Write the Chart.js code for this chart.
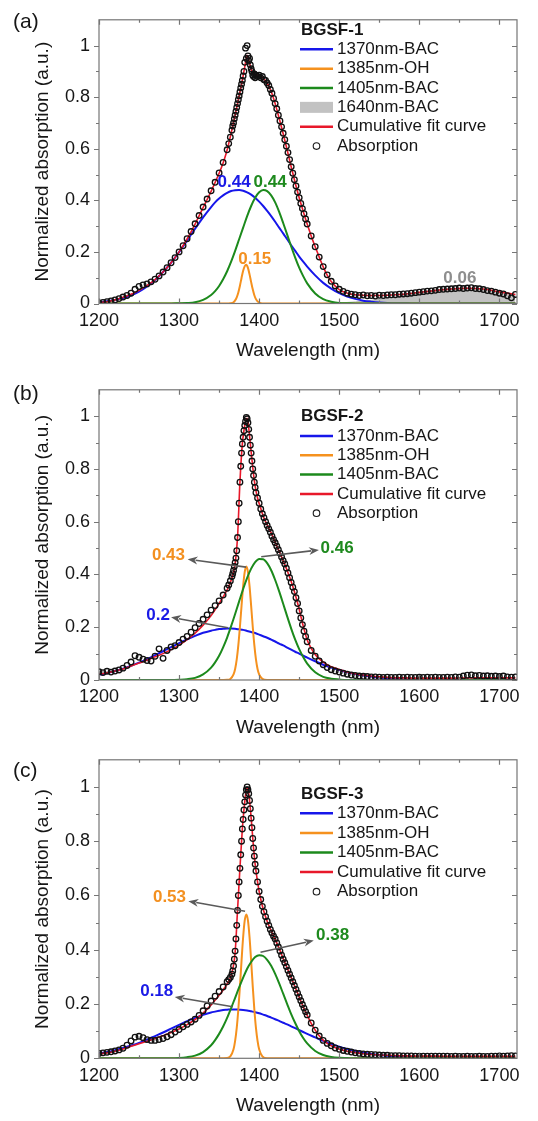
<!DOCTYPE html>
<html>
<head>
<meta charset="utf-8">
<title>BGSF absorption fits</title>
<script src="https://cdn.jsdelivr.net/npm/chart.js@4.4.1/dist/chart.umd.min.js"></script>
<style>
  html, body { margin: 0; padding: 0; background: #fff; }
  canvas { display: block; }
</style>
</head>
<body>
<canvas id="panelA" width="538" height="370"></canvas>
<canvas id="panelB" width="538" height="370"></canvas>
<canvas id="panelC" width="538" height="381"></canvas>
<script>
/* =========================
   DATA
========================= */
const xTickLabels = ['1200', '1300', '1400', '1500', '1600', '1700'];
const yTickLabels = ['0', '0.2', '0.4', '0.6', '0.8', '1'];
const seriesNames = ['1370nm-BAC', '1385nm-OH', '1405nm-BAC', '1640nm-BAC', 'Cumulative fit curve', 'Absorption'];
const sampleNames = ['BGSF-1', 'BGSF-2', 'BGSF-3'];
const panelTags = ['(a)', '(b)', '(c)'];

// peak heights written next to the fitted bands: [1370, 1385, 1405, 1640]
const peaksA = [0.44, 0.15, 0.44, 0.06];
const peaksB = [0.2, 0.43, 0.46];
const peaksC = [0.18, 0.53, 0.38];

// measured absorption (open circles)
const absX = [1200,1205,1210,1215,1220,1225,1230,1235,1240,1245,1250,1255,1260,1265,1270,1275,1280,1285,1290,1295,1300,1305,1310,1315,1320,1325,1330,1335,1340,1345,1350,1355,1360,
  1362,1364,
  1366,1367,1368,1369,1370,1371,1372,1373,1374,1375,1376,1377,1378,1379,1380,1381,1382,1383,1384,1385,1386,1387,1388,1389,1390,1391,1392,1393,1394,1395,1396,
  1398,1400,1402,1404,1406,1408,1410,1412,1414,1416,1418,1420,1422,1424,1426,1428,1430,1432,1434,1436,1438,1440,1442,1444,1446,1448,1450,1452,1454,1456,1458,1460,
  1465,1470,1475,1480,1485,1490,1495,1500,1505,1510,1515,1520,1525,1530,1535,1540,1545,1550,1555,1560,1565,1570,1575,1580,1585,1590,1595,1600,1605,1610,1615,1620,1625,1630,1635,1640,1645,1650,1655,1660,1665,1670,1675,1680,1685,1690,1695,1700,1705,1710,1715,1720];

const absA = [0.002,0.004,0.007,0.010,0.014,0.019,0.025,0.031,0.040,0.055,0.066,0.072,0.076,0.084,0.094,0.107,0.122,0.139,0.158,0.178,0.200,0.224,0.251,0.279,0.309,0.341,0.374,0.405,0.437,0.470,0.506,0.547,0.596,
  0.620,0.645,
  0.672,0.688,0.700,0.716,0.730,0.745,0.760,0.775,0.790,0.805,0.820,0.836,0.850,0.865,0.882,0.900,0.935,0.990,0.950,1.000,0.960,0.940,0.950,0.925,0.910,0.900,0.885,0.880,0.890,0.875,0.885,
  0.880,0.885,0.875,0.880,0.868,0.865,0.855,0.845,0.830,0.815,0.795,0.775,0.755,0.730,0.708,0.685,0.660,0.635,0.610,0.585,0.558,0.530,0.505,0.480,0.456,0.432,0.410,0.388,0.368,0.348,0.328,0.308,
  0.262,0.220,0.180,0.143,0.111,0.086,0.068,0.055,0.047,0.040,0.036,0.034,0.031,0.033,0.030,0.031,0.029,0.032,0.031,0.033,0.034,0.034,0.036,0.037,0.038,0.040,0.042,0.044,0.046,0.048,0.049,0.051,0.054,0.055,0.056,0.057,0.058,0.060,0.058,0.060,0.061,0.058,0.057,0.054,0.050,0.048,0.044,0.040,0.037,0.030,0.022,0.035];

const absB = [0.031,0.028,0.033,0.030,0.034,0.038,0.045,0.055,0.068,0.092,0.086,0.079,0.074,0.072,0.090,0.118,0.082,0.112,0.125,0.130,0.142,0.155,0.165,0.181,0.198,0.214,0.230,0.247,0.265,0.282,0.300,0.322,0.348,
  0.360,0.375,
  0.392,0.403,0.415,0.430,0.445,0.462,0.490,0.540,0.600,0.670,0.750,0.810,0.860,0.895,0.920,0.945,0.965,0.980,0.995,0.990,0.975,0.950,0.920,0.890,0.860,0.830,0.800,0.775,0.750,0.730,0.710,
  0.690,0.670,0.648,0.630,0.615,0.600,0.586,0.573,0.560,0.545,0.532,0.520,0.507,0.494,0.480,0.466,0.452,0.440,0.424,0.406,0.388,0.370,0.352,0.335,0.312,0.290,0.262,0.235,0.210,0.185,0.165,0.145,
  0.112,0.090,0.072,0.058,0.047,0.039,0.034,0.030,0.026,0.022,0.019,0.017,0.015,0.014,0.013,0.012,0.012,0.011,0.010,0.011,0.010,0.010,0.011,0.010,0.011,0.010,0.010,0.011,0.010,0.011,0.010,0.011,0.010,0.010,0.011,0.010,0.012,0.011,0.015,0.018,0.019,0.016,0.017,0.015,0.016,0.014,0.015,0.013,0.015,0.012,0.011,0.012];

const absC = [0.018,0.020,0.022,0.024,0.027,0.031,0.037,0.048,0.064,0.078,0.081,0.076,0.069,0.066,0.066,0.069,0.073,0.079,0.087,0.097,0.106,0.116,0.125,0.134,0.144,0.158,0.175,0.193,0.211,0.229,0.246,0.263,0.282,
  0.290,0.298,
  0.310,0.322,0.340,0.365,0.395,0.440,0.490,0.545,0.600,0.650,0.700,0.750,0.800,0.845,0.880,0.915,0.945,0.970,0.990,1.000,0.990,0.975,0.950,0.920,0.885,0.850,0.810,0.775,0.745,0.715,0.690,
  0.650,0.615,0.585,0.560,0.540,0.522,0.505,0.490,0.475,0.462,0.450,0.440,0.425,0.410,0.395,0.380,0.365,0.352,0.338,0.324,0.310,0.296,0.282,0.268,0.254,0.240,0.226,0.212,0.198,0.185,0.172,0.160,
  0.130,0.104,0.082,0.066,0.055,0.046,0.038,0.033,0.029,0.026,0.023,0.020,0.018,0.016,0.015,0.014,0.013,0.012,0.011,0.011,0.010,0.010,0.010,0.009,0.009,0.009,0.008,0.008,0.008,0.008,0.008,0.008,0.008,0.008,0.008,0.007,0.008,0.007,0.007,0.008,0.007,0.007,0.008,0.007,0.007,0.008,0.008,0.009,0.008,0.009,0.010,0.009];

// cumulative fit curve
const fitX = [1200,1210,1220,1230,1240,1250,1260,1270,1280,1290,1300,1310,1320,1330,1340,
  1350,1355,1360,1365,1370,1373,1376,1379,1381,1383,1385,1387,1389,1391,1393,1395,1398,1401,
  1405,1410,1415,1420,1425,1430,1435,1440,1445,1450,1455,1460,1465,1470,1475,1480,1485,1490,
  1500,1510,1520,1530,1540,1550,1560,1580,1600,1620,1640,1660,1680,1700,1720];

const fitA = [0.003,0.007,0.014,0.024,0.036,0.051,0.070,0.093,0.122,0.158,0.200,0.250,0.308,0.372,0.435,
  0.505,0.545,0.595,0.660,0.730,0.775,0.820,0.865,0.900,0.935,0.962,0.945,0.920,0.900,0.890,0.888,0.886,0.883,
  0.873,0.855,0.822,0.775,0.718,0.658,0.595,0.530,0.468,0.410,0.358,0.308,0.262,0.220,0.180,0.142,0.110,0.085,
  0.054,0.040,0.034,0.032,0.031,0.031,0.032,0.036,0.043,0.050,0.056,0.059,0.056,0.045,0.035];

const fitB = [0.022,0.027,0.034,0.042,0.053,0.064,0.075,0.088,0.100,0.115,0.132,0.153,0.178,0.208,0.244,
  0.290,0.315,0.342,0.378,0.440,0.540,0.750,0.895,0.945,0.980,0.992,0.955,0.895,0.835,0.780,0.735,0.690,0.660,
  0.622,0.588,0.558,0.522,0.488,0.452,0.415,0.373,0.325,0.268,0.205,0.152,0.120,0.097,0.080,0.068,0.058,0.050,
  0.040,0.030,0.024,0.019,0.015,0.012,0.010,0.008,0.007,0.007,0.007,0.008,0.008,0.008,0.008];

const fitC = [0.016,0.020,0.026,0.034,0.044,0.054,0.063,0.073,0.083,0.095,0.108,0.124,0.143,0.167,0.197,
  0.232,0.252,0.274,0.305,0.390,0.545,0.700,0.845,0.915,0.970,0.998,0.975,0.920,0.850,0.775,0.715,0.650,0.600,
  0.550,0.505,0.470,0.438,0.405,0.368,0.333,0.298,0.262,0.226,0.190,0.158,0.129,0.104,0.083,0.067,0.055,0.046,
  0.034,0.026,0.021,0.017,0.014,0.012,0.011,0.009,0.008,0.008,0.007,0.007,0.007,0.007,0.007];

// broad fitted bands
const compX = [1200,1210,1220,1230,1240,1250,1260,1270,1280,1290,1300,1310,1320,1330,1340,
  1345,1350,1355,1360,1365,1370,1375,1380,1385,1390,1395,1400,1405,1410,1415,1420,1425,1430,1435,1440,1445,1450,1455,1460,
  1470,1480,1490,1500,1510,1520,1530,1540,1550,1560,1570,1580,1590,1600,1610,1620,1630,1640,1650,1660,1670,1680,1690,1700,1710,1720];

const bac1370A = [0.005,0.009,0.014,0.021,0.032,0.046,0.066,0.091,0.122,0.158,0.199,0.244,0.290,0.334,0.374,
  0.392,0.407,0.419,0.429,0.436,0.439,0.440,0.437,0.431,0.422,0.410,0.395,0.378,0.359,0.339,0.317,0.294,0.272,0.249,0.226,0.204,0.182,0.162,0.143,
  0.109,0.080,0.058,0.040,0.027,0.018,0.011,0.007,0.004,0.002,0.001,0.001,0,0,0,0,0,0,0,0,0,0,0,0,0,0];
const bac1405A = [0,0,0,0,0,0,0,0,0,0,0.001,0.002,0.005,0.014,0.033,
  0.048,0.068,0.094,0.125,0.162,0.204,0.249,0.294,0.339,0.378,0.410,0.431,0.440,0.436,0.419,0.392,0.355,0.312,0.267,0.221,0.178,0.139,0.106,0.078,
  0.039,0.017,0.007,0.002,0.001,0,0,0,0,0,0,0,0,0,0,0,0,0,0,0,0,0,0,0,0,0];
const bac1640A = [0,0,0,0,0,0,0,0,0,0,0,0,0,0,0,
  0,0,0,0,0,0,0,0,0,0,0,0,0,0,0,0,0,0,0,0,0,0,0.001,0.001,
  0.001,0.001,0.002,0.003,0.004,0.006,0.009,0.012,0.016,0.020,0.025,0.031,0.036,0.042,0.048,0.053,0.056,0.059,0.060,0.060,0.058,0.054,0.050,0.045,0.039,0.033];

const bac1370B = [0.020,0.026,0.034,0.043,0.054,0.066,0.079,0.094,0.109,0.125,0.140,0.154,0.167,0.179,0.187,
  0.190,0.193,0.194,0.195,0.195,0.194,0.192,0.190,0.186,0.182,0.178,0.172,0.166,0.160,0.153,0.146,0.138,0.131,0.123,0.115,0.107,0.100,0.092,0.085,
  0.071,0.058,0.047,0.038,0.029,0.023,0.017,0.013,0.009,0.007,0.005,0.003,0.002,0.001,0.001,0.001,0,0,0,0,0,0,0,0,0,0];
const bac1405B = [0,0,0,0,0,0,0,0,0,0,0.001,0.003,0.008,0.021,0.047,
  0.067,0.092,0.124,0.161,0.204,0.250,0.298,0.345,0.387,0.422,0.447,0.459,0.458,0.443,0.416,0.379,0.336,0.289,0.241,0.195,0.153,0.117,0.087,0.062,
  0.029,0.012,0.005,0.002,0,0,0,0,0,0,0,0,0,0,0,0,0,0,0,0,0,0,0,0,0,0];

const bac1370C = [0.018,0.023,0.030,0.038,0.047,0.057,0.069,0.082,0.095,0.109,0.123,0.137,0.149,0.160,0.169,
  0.172,0.175,0.178,0.179,0.180,0.180,0.179,0.178,0.176,0.173,0.170,0.166,0.161,0.156,0.150,0.144,0.138,0.131,0.125,0.118,0.111,0.104,0.097,0.090,
  0.077,0.064,0.053,0.043,0.034,0.027,0.021,0.016,0.012,0.009,0.006,0.005,0.003,0.002,0.002,0.001,0.001,0,0,0,0,0,0,0,0,0];
const bac1405C = [0,0,0,0,0,0,0,0,0,0,0.001,0.004,0.010,0.023,0.048,
  0.067,0.090,0.117,0.149,0.185,0.223,0.261,0.297,0.330,0.355,0.373,0.380,0.377,0.363,0.341,0.311,0.276,0.238,0.200,0.163,0.130,0.100,0.075,0.055,
  0.027,0.012,0.005,0.002,0.001,0,0,0,0,0,0,0,0,0,0,0,0,0,0,0,0,0,0,0,0,0];

// narrow OH band
const ohX = [1200,1350,1360,1364,1368,1370,1372,1374,1376,1378,1380,1382,1384,1386,1388,1390,1392,1394,1396,1398,1400,1404,1410,1420,1720];
const oh1385A = [0,0,0,0.001,0.005,0.012,0.024,0.043,0.069,0.099,0.127,0.145,0.150,0.138,0.113,0.083,0.055,0.032,0.017,0.008,0.003,0,0,0,0];
const oh1385B = [0,0,0.001,0.004,0.021,0.042,0.078,0.132,0.202,0.281,0.356,0.410,0.430,0.410,0.356,0.281,0.202,0.132,0.078,0.042,0.021,0.004,0,0,0];
const oh1385C = [0,0,0.001,0.007,0.033,0.064,0.112,0.180,0.265,0.359,0.446,0.508,0.530,0.508,0.446,0.359,0.265,0.180,0.112,0.064,0.033,0.007,0,0,0];

/* =========================
   STYLE
========================= */
const FONT = '"Liberation Sans", Arial, Helvetica, sans-serif';
const INK = '#161616';
const bandColors = ['#1616ea', '#f5911e', '#1c8a1c', '#c2c2c2'];
const labelColors = ['#1a1ae6', '#f39020', '#1e8a1e', '#8e8e8e'];
const fitColor = '#e8182a';

const panels = [
  {
    id: 'panelA', tag: panelTags[0], sample: sampleNames[0],
    abs: absA, fit: fitA, bands: [bac1370A, oh1385A, bac1405A, bac1640A], peaks: peaksA,
    pad: { top: 3.5, bottom: 7.6 }, tagY: 22.7,
    legend: { titleY: 30, firstY: 49.3, step: 19.35, items: [0, 1, 2, 3, 4, 5] },
    notes: [
      { s: 0, at: [1368.7, 0.468] },
      { s: 1, at: [1394.5, 0.171] },
      { s: 2, at: [1413.7, 0.468] },
      { s: 3, at: [1650.6, 0.098] }
    ]
  },
  {
    id: 'panelB', tag: panelTags[1], sample: sampleNames[1],
    abs: absB, fit: fitB, bands: [bac1370B, oh1385B, bac1405B], peaks: peaksB,
    pad: { top: 10, bottom: 1.1 }, tagY: 24,
    legend: { titleY: 46.7, firstY: 66, step: 19.3, items: [0, 1, 2, 4, 5] },
    notes: [
      { s: 1, at: [1286.7, 0.471], from: [1383.7, 0.428], to: [1310.7, 0.458] },
      { s: 2, at: [1497.4, 0.499], from: [1402.6, 0.467], to: [1474.7, 0.493] },
      { s: 0, at: [1273.8, 0.247], from: [1361, 0.198], to: [1290, 0.238] }
    ]
  },
  {
    id: 'panelC', tag: panelTags[2], sample: sampleNames[2],
    abs: absC, fit: fitC, bands: [bac1370C, oh1385C, bac1405C], peaks: peaksC,
    pad: { top: 18.3, bottom: 3.8 }, tagY: 31.7,
    legend: { titleY: 54.3, firstY: 73.3, step: 19.6, items: [0, 1, 2, 4, 5] },
    notes: [
      { s: 1, at: [1288, 0.595], from: [1382.4, 0.542], to: [1311.6, 0.579] },
      { s: 2, at: [1491.8, 0.452], from: [1401.7, 0.391], to: [1468.2, 0.434] },
      { s: 0, at: [1272.1, 0.248], from: [1367, 0.19], to: [1294.6, 0.226] }
    ]
  }
];

/* =========================
   FRAME, LEGEND, LABELS
========================= */
function drawArrow(ctx, x1, y1, x2, y2) {
  const ang = Math.atan2(y2 - y1, x2 - x1);
  const hl = 10, hw = 4;
  const c = Math.cos(ang), s = Math.sin(ang);
  ctx.strokeStyle = '#5a5a5a';
  ctx.fillStyle = '#5a5a5a';
  ctx.lineWidth = 1.6;
  ctx.beginPath();
  ctx.moveTo(x1, y1);
  ctx.lineTo(x2 - hl * 0.8 * c, y2 - hl * 0.8 * s);
  ctx.stroke();
  ctx.beginPath();
  ctx.moveTo(x2, y2);
  ctx.lineTo(x2 - hl * c + hw * s, y2 - hl * s - hw * c);
  ctx.lineTo(x2 - hl * 0.7 * c, y2 - hl * 0.7 * s);
  ctx.lineTo(x2 - hl * c - hw * s, y2 - hl * s + hw * c);
  ctx.closePath();
  ctx.fill();
}

function drawDecor(chart, p) {
  const { ctx, chartArea: a, scales: { x, y } } = chart;
  ctx.save();

  // box with ticks on all four sides
  ctx.strokeStyle = '#767676';
  ctx.lineWidth = 1.2;
  ctx.strokeRect(a.left, a.top, a.right - a.left, a.bottom - a.top);
  ctx.beginPath();
  x.ticks.forEach(t => {
    if (t.value % 50 !== 0) return;
    const px = Math.round(x.getPixelForValue(t.value)) + 0.5;
    const len = t.value % 100 === 0 ? 5 : 3;
    ctx.moveTo(px, a.bottom); ctx.lineTo(px, a.bottom - len);
    ctx.moveTo(px, a.top); ctx.lineTo(px, a.top + len);
  });
  y.ticks.forEach(t => {
    const k = Math.round(t.value * 10);
    if (k > 10) return;
    const py = Math.round(y.getPixelForValue(t.value)) + 0.5;
    const len = k % 2 === 0 ? 5 : 3;
    ctx.moveTo(a.left, py); ctx.lineTo(a.left - len, py);
    ctx.moveTo(a.right, py); ctx.lineTo(a.right - len, py);
  });
  ctx.stroke();

  // panel tag
  ctx.fillStyle = INK;
  ctx.textAlign = 'left';
  ctx.textBaseline = 'middle';
  ctx.font = '21px ' + FONT;
  ctx.fillText(p.tag, 13, p.tagY);

  // legend
  const lg = p.legend, lx = 300;
  ctx.font = 'bold 17px ' + FONT;
  ctx.fillText(p.sample, lx + 1, lg.titleY);
  ctx.font = '17px ' + FONT;
  lg.items.forEach((k, i) => {
    const yy = lg.firstY + i * lg.step;
    if (k === 3) {
      ctx.fillStyle = bandColors[3];
      ctx.fillRect(lx, yy - 5.5, 33, 11);
    } else if (k === 5) {
      ctx.strokeStyle = '#1a1a1a';
      ctx.lineWidth = 1.1;
      ctx.beginPath();
      ctx.arc(lx + 16.5, yy, 3.3, 0, Math.PI * 2);
      ctx.stroke();
    } else {
      ctx.strokeStyle = k === 4 ? fitColor : bandColors[k];
      ctx.lineWidth = 2.5;
      ctx.beginPath();
      ctx.moveTo(lx, yy); ctx.lineTo(lx + 33, yy);
      ctx.stroke();
    }
    ctx.fillStyle = INK;
    ctx.fillText(seriesNames[k], lx + 37, yy);
  });

  // peak values, with arrows where given
  p.notes.forEach(n => {
    if (n.from) {
      drawArrow(ctx,
        x.getPixelForValue(n.from[0]), y.getPixelForValue(n.from[1]),
        x.getPixelForValue(n.to[0]), y.getPixelForValue(n.to[1]));
    }
    ctx.font = 'bold 17px ' + FONT;
    ctx.textAlign = 'center';
    ctx.fillStyle = labelColors[n.s];
    ctx.fillText(String(p.peaks[n.s]), x.getPixelForValue(n.at[0]), y.getPixelForValue(n.at[1]));
  });

  ctx.restore();
}

/* =========================
   CHARTS
========================= */
const pts = (xs, ys) => xs.map((v, i) => ({ x: v, y: ys[i] }));

function band(label, xs, ys, color, width, order) {
  return {
    label, data: pts(xs, ys), borderColor: color, borderWidth: width,
    pointRadius: 0, cubicInterpolationMode: 'monotone', fill: false, order
  };
}

function buildPanel(p) {
  const datasets = [
    {
      label: seriesNames[5], data: pts(absX, p.abs), showLine: false,
      pointRadius: 2.8, pointBorderWidth: 1.3, pointBorderColor: '#111',
      pointBackgroundColor: 'rgba(255,255,255,0)', order: 0
    },
    band(seriesNames[4], fitX, p.fit, fitColor, 1.6, 1),
    band(seriesNames[2], compX, p.bands[2], bandColors[2], 2, 2),
    band(seriesNames[1], ohX, p.bands[1], bandColors[1], 2, 3),
    band(seriesNames[0], compX, p.bands[0], bandColors[0], 2, 4)
  ];
  if (p.bands[3]) {
    const gray = band(seriesNames[3], compX, p.bands[3], '#b0b0b0', 1, 5);
    gray.fill = 'origin';
    gray.backgroundColor = bandColors[3];
    datasets.push(gray);
  }

  const tickFont = { family: FONT, size: 18 };
  const titleFont = { family: FONT, size: 19 };

  new Chart(document.getElementById(p.id), {
    type: 'line',
    data: { datasets },
    options: {
      responsive: false,
      animation: false,
      devicePixelRatio: 1,
      layout: { padding: { top: p.pad.top, right: 21, bottom: p.pad.bottom, left: 0 } },
      plugins: { legend: { display: false }, tooltip: { enabled: false } },
      scales: {
        x: {
          type: 'linear', min: 1200, max: 1722,
          grid: { display: false, drawTicks: false },
          border: { display: false },
          ticks: {
            stepSize: 50, autoSkip: false, maxRotation: 0, includeBounds: false,
            padding: 6.7, font: tickFont, color: INK,
            callback: v => (v % 100 === 0 ? xTickLabels[(v - 1200) / 100] : '')
          },
          title: { display: true, text: 'Wavelength (nm)', font: titleFont, color: INK, padding: 0 },
          afterFit: s => { s.height = 58.9; }
        },
        y: {
          min: 0, max: 1.1,
          grid: { display: false, drawTicks: false },
          border: { display: false },
          ticks: {
            stepSize: 0.1, autoSkip: false, includeBounds: false,
            padding: 9, font: tickFont, color: INK,
            callback: v => {
              const k = Math.round(v * 10);
              if (k > 10) return null;
              return k % 2 === 0 ? yTickLabels[k / 2] : '';
            }
          },
          title: {
            display: true, text: 'Normalized absorption (a.u.)', font: titleFont, color: INK,
            padding: { top: 31.3, bottom: 0 }
          },
          afterFit: s => { s.width = 99; }
        }
      }
    },
    plugins: [{ id: 'decor', afterDatasetsDraw: chart => drawDecor(chart, p) }]
  });
}

panels.forEach(buildPanel);
</script>
</body>
</html>
